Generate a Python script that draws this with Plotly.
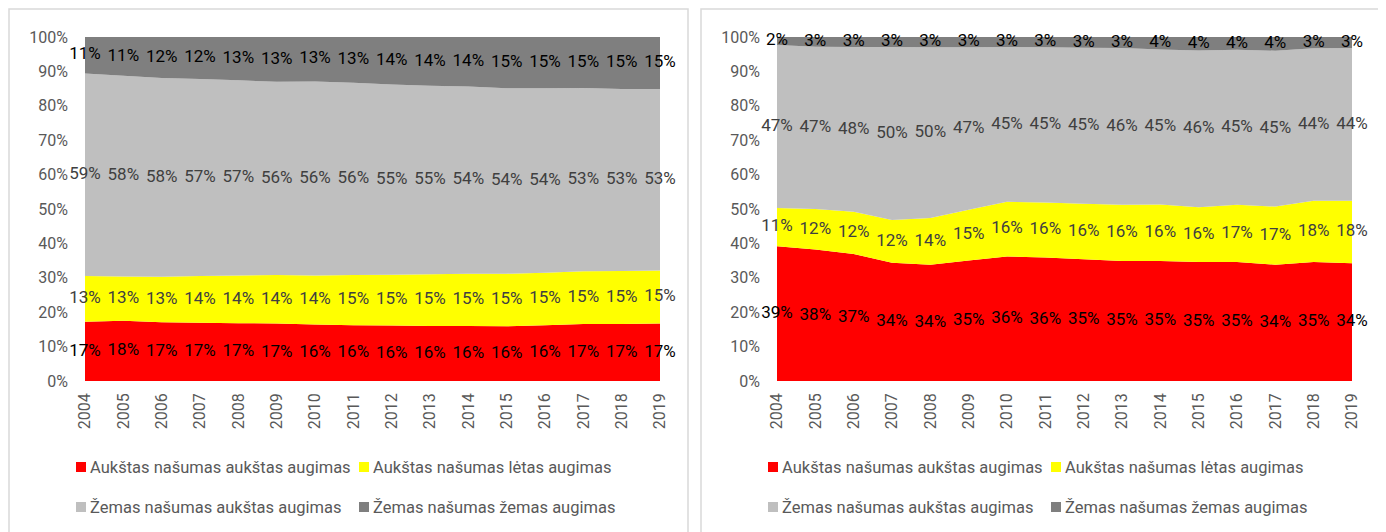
import plotly.graph_objects as go

years = list(range(2004, 2020))
series_names = [
    "Aukštas našumas aukštas augimas",
    "Aukštas našumas lėtas augimas",
    "Žemas našumas aukštas augimas",
    "Žemas našumas žemas augimas",
]
colors = ["#ff0000", "#ffff00", "#bfbfbf", "#7f7f7f"]
label_colors = ["#000000", "#404040", "#404040", "#000000"]

# left chart (shares, %)
left_hh = [17.2, 17.5, 17.1, 16.9, 16.8, 16.7, 16.4, 16.2, 16.1, 16.0, 16.0, 15.9, 16.2, 16.6, 16.6, 16.7]
left_hl = [13.3, 12.9, 13.2, 13.6, 13.9, 14.1, 14.3, 14.6, 14.8, 15.0, 15.2, 15.3, 15.3, 15.3, 15.4, 15.4]
left_lh = [58.9, 58.3, 57.8, 57.3, 56.7, 56.2, 56.4, 55.9, 55.3, 54.8, 54.4, 53.9, 53.6, 53.3, 52.9, 52.8]
left_ll = [10.6, 11.3, 11.9, 12.2, 12.6, 13.0, 12.9, 13.3, 13.8, 14.2, 14.4, 14.9, 14.9, 14.8, 15.1, 15.1]

# right chart (shares, %)
right_hh = [39.2, 38.2, 36.9, 34.4, 33.8, 35.0, 36.2, 35.9, 35.4, 34.9, 34.9, 34.6, 34.6, 33.8, 34.6, 34.2]
right_hl = [11.1, 11.8, 12.3, 12.4, 13.6, 14.8, 15.9, 16.0, 16.1, 16.3, 16.4, 15.9, 16.6, 16.9, 17.8, 18.2]
right_lh = [47.4, 47.2, 47.9, 50.3, 49.6, 47.2, 45.0, 45.1, 45.4, 45.6, 45.1, 45.6, 45.1, 45.3, 44.3, 44.4]
right_ll = [2.3, 2.8, 2.9, 2.9, 3.0, 3.0, 2.9, 3.0, 3.1, 3.2, 3.6, 3.9, 3.7, 4.0, 3.3, 3.2]

y_ticks = list(range(0, 101, 10))

FONT = "Roboto, Arial"
# page has an 8px body margin, so the figure sits at (8, 8)
OFF = 8
W, H = 1386 - OFF, 532 - OFF


def px(x):
    return (x - OFF) / W


def py(y):
    return (H - (y - OFF)) / H


fig = go.Figure()


def add_chart(all_series, xa, ya):
    base = [0.0] * len(years)
    for name, vals, col, lcol in zip(series_names, all_series, colors, label_colors):
        fig.add_trace(go.Scatter(
            x=years, y=vals, name=name, mode="none", stackgroup=xa,
            fillcolor=col, xaxis=xa, yaxis=ya, showlegend=False, hoverinfo="skip"))
        mids = [b + v / 2 for b, v in zip(base, vals)]
        fig.add_trace(go.Scatter(
            x=years, y=mids, mode="text", text=[f"{round(v)}%" for v in vals],
            textfont=dict(family=FONT, size=17, color=lcol), cliponaxis=False,
            xaxis=xa, yaxis=ya, showlegend=False, hoverinfo="skip"))
        base = [b + v for b, v in zip(base, vals)]


add_chart([left_hh, left_hl, left_lh, left_ll], "x", "y")
add_chart([right_hh, right_hl, right_lh, right_ll], "x2", "y2")

ydom = [py(381), py(37)]
axis_x = dict(range=[2004, 2019], tickvals=years, tickangle=-90, showgrid=False,
              zeroline=False, ticks="", showline=False, automargin=False,
              ticklabelstandoff=8,
              tickfont=dict(family=FONT, size=16, color="#595959"))
axis_y = dict(range=[0, 100], tickvals=y_ticks, ticktext=[f"{v}%" for v in y_ticks],
              showgrid=False, zeroline=False, ticks="", showline=False,
              automargin=False, ticklabelstandoff=16,
              tickfont=dict(family=FONT, size=16, color="#595959"))

fig.update_layout(
    width=W, height=H,
    margin=dict(l=0, r=0, t=0, b=0, autoexpand=False),
    paper_bgcolor="white", plot_bgcolor="white",
    xaxis=dict(axis_x, domain=[px(85), px(660)], anchor="y"),
    yaxis=dict(axis_y, domain=ydom, anchor="x"),
    xaxis2=dict(axis_x, domain=[px(777), px(1352)], anchor="y2"),
    yaxis2=dict(axis_y, domain=ydom, anchor="x2"),
)

# panel borders
for x0, x1 in [(9, 688), (701, 1381)]:
    fig.add_shape(type="rect", xref="paper", yref="paper",
                  x0=px(x0), x1=px(x1), y0=-0.05, y1=py(9),
                  line=dict(color="#d9d9d9", width=1.5), fillcolor="rgba(0,0,0,0)")

# legends
for lx0 in [76, 768]:
    for i, (name, col) in enumerate(zip(series_names, colors)):
        lx = lx0 + (i % 2) * 283
        ly = 467 if i < 2 else 507
        fig.add_shape(type="rect", xref="paper", yref="paper",
                      x0=px(lx), x1=px(lx + 10),
                      y0=py(ly + 5), y1=py(ly - 5),
                      fillcolor=col, line=dict(width=0))
        fig.add_annotation(x=px(lx + 12), y=py(ly), xref="paper", yref="paper",
                           text=name, showarrow=False, xanchor="left", yanchor="middle",
                           font=dict(family=FONT, size=16.5, color="#595959"))

fig.write_html("out.html")
